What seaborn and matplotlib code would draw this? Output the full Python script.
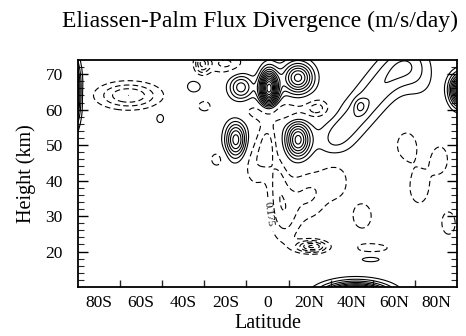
import numpy as np
import matplotlib
matplotlib.use("Agg")
import matplotlib.pyplot as plt
import seaborn as sns

# ---- data: features of the EP-flux divergence field ----
# centre latitude (deg, S<0), centre height (km), amplitude (m/s/day), lat width (deg), height width (km)
blob_lat = [0.7, -12.6, 14.5, -15.0, 14.5, -93.0, 92.0, 42.0,
            31.0, 37.0, 43.0, 49.0, 55.0, 61.0, 67.0, 72.0, 44.0,
            -66.0, -30.0, -51.0, -35.0, -31.0, -20.0, 5.0,
            0.0, -6.0, 8.0, 20.0, 32.0, 5.0, 21.0, 49.0, 50.0, 38.0,
            66.0, 82.0, 24.0, 72.0, 86.0, -24.0, 45.0]
blob_hgt = [66.0, 66.3, 69.0, 51.5, 51.5, 65.0, 65.5, 7.0,
            51.0, 55.0, 59.0, 63.0, 67.0, 71.0, 74.0, 68.0, 61.0,
            64.0, 61.0, 57.6, 66.5, 73.0, 73.0, 59.5,
            50.0, 45.0, 31.0, 36.0, 40.0, 40.0, 21.4, 17.8, 21.0, 20.6,
            50.0, 46.0, 60.5, 38.0, 28.0, 46.0, 30.0]
blob_amp = [2.2, 0.8, 1.3, 1.15, 1.3, 2.0, 2.0, 3.0,
            0.3, 0.3, 0.3, 0.3, 0.3, 0.3, 0.3, 0.2, 0.3,
            -0.7, -0.25, 0.25, 0.3, -0.7, -0.4, -0.4,
            -0.4, -0.3, -0.45, -0.35, -0.3, -0.3, -0.9, 0.25, -0.25, 0.25,
            -0.25, -0.25, -0.35, -0.25, -0.3, -0.25, -0.25]
blob_wlat = [3.0, 4.0, 5.0, 3.5, 4.0, 2.5, 3.5, 10.0,
             6.0, 6.0, 6.0, 6.0, 6.5, 7.0, 7.0, 6.0, 2.0,
             10.0, 3.0, 2.0, 3.0, 2.5, 6.0, 12.0,
             3.0, 4.0, 5.0, 6.0, 5.0, 3.0, 5.0, 5.0, 8.0, 2.0,
             5.0, 4.0, 4.0, 5.0, 3.0, 3.0, 5.0]
blob_whgt = [3.5, 2.5, 3.0, 3.5, 3.5, 6.0, 3.0, 2.5,
             3.5, 3.5, 3.5, 3.5, 3.5, 3.5, 3.5, 4.0, 1.5,
             2.5, 1.5, 1.5, 1.5, 2.0, 2.0, 2.0,
             5.0, 5.0, 6.0, 5.0, 4.0, 5.0, 1.2, 0.8, 1.2, 1.5,
             4.0, 4.0, 1.8, 5.0, 3.0, 2.0, 4.0]

contour_step = 0.175
lat_ticks = [-80, -60, -40, -20, 0, 20, 40, 60, 80]
lat_labels = ["80S", "60S", "40S", "20S", "0", "20N", "40N", "60N", "80N"]
hgt_ticks = [20, 30, 40, 50, 60, 70]

# ---- build grid field from the feature table ----
lat = np.linspace(-90, 90, 361)
hgt = np.linspace(10, 74, 257)
LAT, HGT = np.meshgrid(lat, hgt)
field = np.zeros_like(LAT)
for la, h, a, wl, wh in zip(blob_lat, blob_hgt, blob_amp, blob_wlat, blob_whgt):
    field += a * np.exp(-((LAT - la) ** 2) / (2 * wl ** 2) - ((HGT - h) ** 2) / (2 * wh ** 2))

levels = [k * contour_step for k in range(-20, 21) if k not in (0, -1)]

sns.set_theme(style="ticks")
plt.rcParams["font.family"] = ["Liberation Serif", "DejaVu Serif"]
plt.rcParams["contour.negative_linestyle"] = (0, (5, 3))

fig = plt.figure(figsize=(4.66, 3.36), dpi=100)
ax = fig.add_axes([78 / 466, 1 - 287 / 336, (457 - 78) / 466, (287 - 60) / 336])

cs = ax.contour(LAT, HGT, field, levels=levels, colors="black", linewidths=0.8)
cs1 = ax.contour(LAT, HGT, field, levels=[-contour_step], colors="black", linewidths=0.8)
ax.clabel(cs1, inline=True, fontsize=8, fmt=lambda v: f"{abs(v):.3f}", manual=[(9, 31)])

ax.set_xlim(-90, 90)
ax.set_ylim(10, 74)
ax.set_xticks(lat_ticks)
ax.set_xticklabels(lat_labels)
ax.set_xticks([-70, -50, -30, -10, 10, 30, 50, 70], minor=True)
ax.set_yticks(hgt_ticks)
ax.set_yticks(np.arange(12, 74, 2), minor=True)
ax.tick_params(axis="x", which="major", length=0, pad=6, labelsize=12.5, colors="black")
ax.tick_params(axis="x", which="minor", direction="in", length=5, width=1.0, bottom=True, top=False)
ax.tick_params(axis="y", which="major", direction="in", length=7, width=1.0, left=True, right=True,
               labelsize=12.5, pad=11, colors="black")
ax.tick_params(axis="y", which="minor", direction="in", length=4, width=0.8, left=True, right=True)
for s in ax.spines.values():
    s.set_linewidth(1.3)
    s.set_color("black")

ax.set_xlabel("Latitude", fontsize=14.5, labelpad=2, color="black")
ax.set_ylabel("Height (km)", fontsize=14.5, labelpad=7, color="black")
fig.text(0.558, 0.935, "Eliassen-Palm Flux Divergence (m/s/day)", ha="center", va="center",
         fontsize=17, color="black")

fig.savefig("out.png", dpi=100)
